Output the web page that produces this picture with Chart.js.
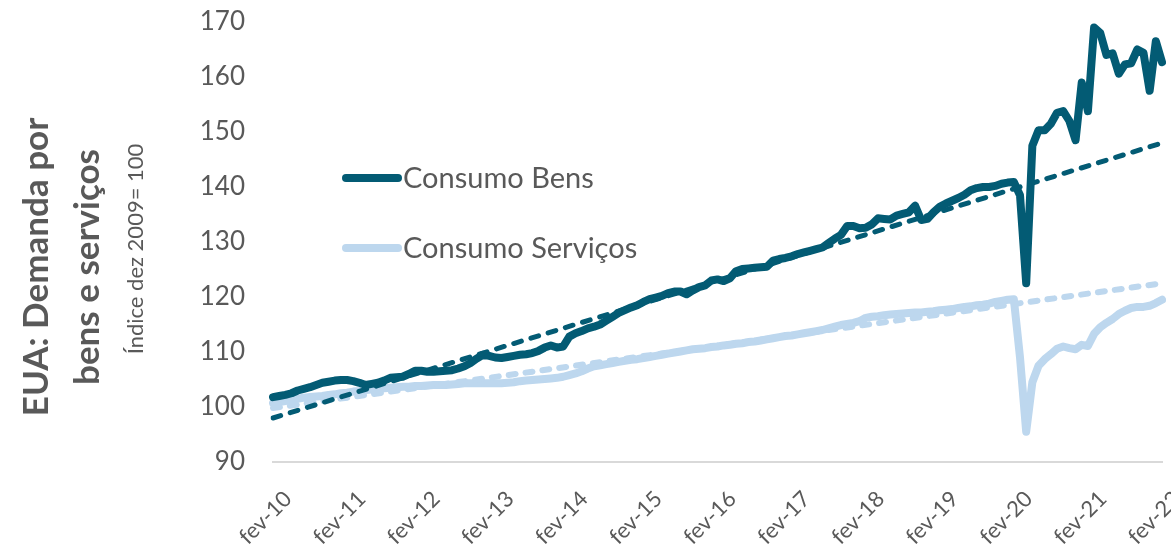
<!DOCTYPE html>
<html>
<head>
<meta charset="utf-8">
<script src="https://cdn.jsdelivr.net/npm/chart.js@4.4.1/dist/chart.umd.min.js"></script>
<style>
  html, body { margin: 0; padding: 0; background: #ffffff; }
  #wrap { width: 1171px; height: 549px; }
</style>
</head>
<body>
<div id="wrap"><canvas id="c" width="1171" height="549"></canvas></div>
<script>
// ---- Data ----
const monthNames = ['jan','fev','mar','abr','mai','jun','jul','ago','set','out','nov','dez'];
const startYear = 2010, startMonth = 1;   // fev-10
const endYear = 2022, endMonth = 1;       // fev-22
const categories = [];
for (let y = startYear; y <= endYear; y++) {
  for (let m = 0; m < 12; m++) {
    if (y === startYear && m < startMonth) continue;
    if (y === endYear && m > endMonth) continue;
    categories.push(monthNames[m] + '-' + String(y).slice(2));
  }
}

const consumoBens = [
  101.8,102.0,102.2,102.5,103.0,103.3,103.6,104.0,104.4,104.6,104.8,104.9,
  104.9,104.7,104.4,104.0,104.2,104.4,104.8,105.3,105.4,105.5,106.0,106.6,
  106.6,106.4,106.4,106.5,106.6,106.7,107.0,107.4,108.0,108.8,109.5,109.3,
  109.0,108.9,109.1,109.3,109.5,109.6,109.8,110.2,110.8,111.2,110.8,111.0,
  112.8,113.4,113.8,114.3,114.6,115.0,115.7,116.4,117.1,117.6,118.1,118.5,
  119.1,119.6,119.9,120.2,120.7,121.0,121.0,120.5,121.2,121.8,122.1,123.0,
  123.2,122.9,123.4,124.7,125.1,125.2,125.3,125.4,125.5,126.6,126.9,127.1,
  127.4,127.8,128.1,128.4,128.7,129.0,129.8,130.6,131.3,132.9,132.9,132.5,
  132.6,133.2,134.3,134.2,134.1,134.8,135.1,135.4,136.6,134.0,134.2,135.4,
  136.4,137.0,137.5,138.0,138.6,139.4,139.8,140.0,140.0,140.2,140.6,140.8,
  140.9,138.5,122.5,147.5,150.3,150.3,151.5,153.5,153.8,152.0,148.5,159.0,
  153.8,169.0,168.0,164.0,164.3,160.6,162.3,162.5,165.0,164.4,157.5,166.5,
  162.7
];

const consumoServicos = [
  100.7,100.9,101.1,101.3,101.5,101.7,101.8,101.9,102.0,102.2,102.3,102.5,
  102.6,102.8,102.9,103.1,103.2,103.3,103.4,103.5,103.6,103.7,103.7,103.8,
  103.8,103.9,104.0,104.0,104.0,104.1,104.2,104.3,104.3,104.3,104.3,104.3,
  104.3,104.3,104.4,104.5,104.7,104.8,104.9,105.0,105.1,105.2,105.3,105.5,
  105.8,106.1,106.5,107.0,107.4,107.6,107.8,108.0,108.2,108.4,108.6,108.7,
  108.9,109.1,109.3,109.5,109.7,109.9,110.1,110.3,110.5,110.6,110.7,110.9,
  111.0,111.2,111.3,111.5,111.6,111.8,111.9,112.1,112.3,112.5,112.7,112.9,
  113.0,113.2,113.4,113.6,113.8,114.0,114.3,114.6,114.9,115.1,115.3,115.6,
  116.2,116.4,116.5,116.7,116.8,116.9,117.0,117.1,117.2,117.2,117.3,117.4,
  117.6,117.7,117.8,118.0,118.2,118.3,118.5,118.6,118.8,119.1,119.3,119.5,
  119.6,109.0,95.5,104.5,107.5,108.7,109.6,110.6,111.0,110.7,110.5,111.3,
  111.1,113.3,114.5,115.3,116.0,116.9,117.5,118.0,118.2,118.2,118.4,118.9,
  119.5
];

// linear trend lines: start and end values
const tendenciaBens = [98.0, 148.0];
const tendenciaServicos = [99.8, 122.5];

const yMin = 90, yMax = 170, yStep = 10;

const titleLines = ['EUA: Demanda por', 'bens e serviços'];
const subtitleText = 'Índice dez 2009= 100';

// ---- Styles ----
const FONT = 'Lato, "Open Sans", "Noto Sans", sans-serif';
const TEXT = '#595959';
const DARK = '#035B74';
const LIGHT = '#BDD7EE';

const trendPoints = (arr) => [
  { x: categories[0], y: arr[0] },
  { x: categories[categories.length - 1], y: arr[1] }
];

const titlePlugin = {
  id: 'sideTitles',
  afterDraw(chart) {
    const ctx = chart.ctx;
    ctx.save();
    ctx.fillStyle = TEXT;
    ctx.textAlign = 'center';
    ctx.textBaseline = 'alphabetic';
    ctx.font = 'bold 35px ' + FONT;
    const baseX = [48, 99];
    titleLines.forEach((t, i) => {
      ctx.save();
      ctx.translate(baseX[i], 267);
      ctx.rotate(-Math.PI / 2);
      ctx.fillText(t, 0, 0);
      ctx.restore();
    });
    ctx.font = '22px ' + FONT;
    ctx.save();
    ctx.translate(143, 249);
    ctx.rotate(-Math.PI / 2);
    ctx.fillText(subtitleText, 0, 0);
    ctx.restore();
    ctx.restore();
  }
};

const legendPlugin = {
  id: 'innerLegend',
  afterDraw(chart) {
    const ctx = chart.ctx;
    const items = [0, 1].map(i => chart.data.datasets[i]);
    const ys = [178, 248];
    ctx.save();
    items.forEach((ds, k) => {
      ctx.strokeStyle = ds.borderColor;
      ctx.lineWidth = 8;
      ctx.lineCap = 'round';
      ctx.beginPath();
      ctx.moveTo(346, ys[k]);
      ctx.lineTo(398, ys[k]);
      ctx.stroke();
      ctx.fillStyle = TEXT;
      ctx.font = '29px ' + FONT;
      ctx.textAlign = 'left';
      ctx.textBaseline = 'middle';
      ctx.fillText(ds.label, 403, ys[k] + 1);
    });
    ctx.restore();
  }
};

new Chart(document.getElementById('c'), {
  type: 'line',
  data: {
    labels: categories,
    datasets: [
      { label: 'Consumo Bens', data: consumoBens, borderColor: DARK, borderWidth: 8,
        pointRadius: 0, tension: 0, borderJoinStyle: 'round', borderCapStyle: 'round', order: 1 },
      { label: 'Consumo Serviços', data: consumoServicos, borderColor: LIGHT, borderWidth: 8,
        pointRadius: 0, tension: 0, borderJoinStyle: 'round', borderCapStyle: 'round', order: 2 },
      { label: 'Tendência Bens', data: trendPoints(tendenciaBens), borderColor: DARK, borderWidth: 5,
        borderDash: [8, 10], borderCapStyle: 'round', pointRadius: 0, order: 0 },
      { label: 'Tendência Serviços', data: trendPoints(tendenciaServicos), borderColor: LIGHT, borderWidth: 6,
        borderDash: [7, 10], borderCapStyle: 'round', pointRadius: 0, order: 0 }
    ]
  },
  options: {
    responsive: false,
    animation: false,
    devicePixelRatio: 1,
    layout: { padding: { left: 0, right: 9, top: 22, bottom: 0 } },
    plugins: { legend: { display: false }, tooltip: { enabled: false }, title: { display: false } },
    scales: {
      x: {
        type: 'category',
        offset: false,
        grid: { display: false, drawTicks: false },
        border: { display: true, color: '#D9D9D9', width: 2 },
        ticks: {
          autoSkip: false, maxRotation: 45, minRotation: 45, padding: 24, labelOffset: 15,
          color: TEXT, font: { family: FONT, size: 22 },
          callback: function (v, i) { const l = categories[i]; return l && l.startsWith('fev') ? l : ''; }
        },
        afterCalculateLabelRotation: (s) => { s.labelRotation = 45; },
        afterFit: (s) => { s.height = 87; s.paddingLeft = 0; s.paddingRight = 0; }
      },
      y: {
        min: yMin, max: yMax,
        grid: { display: false, drawTicks: false },
        border: { display: false },
        ticks: { stepSize: yStep, padding: 28, color: TEXT, font: { family: FONT, size: 26 } },
        afterFit: (s) => { s.width = 273; s.paddingTop = 0; s.paddingBottom = 0; }
      }
    }
  },
  plugins: [titlePlugin, legendPlugin]
});
</script>
</body>
</html>
